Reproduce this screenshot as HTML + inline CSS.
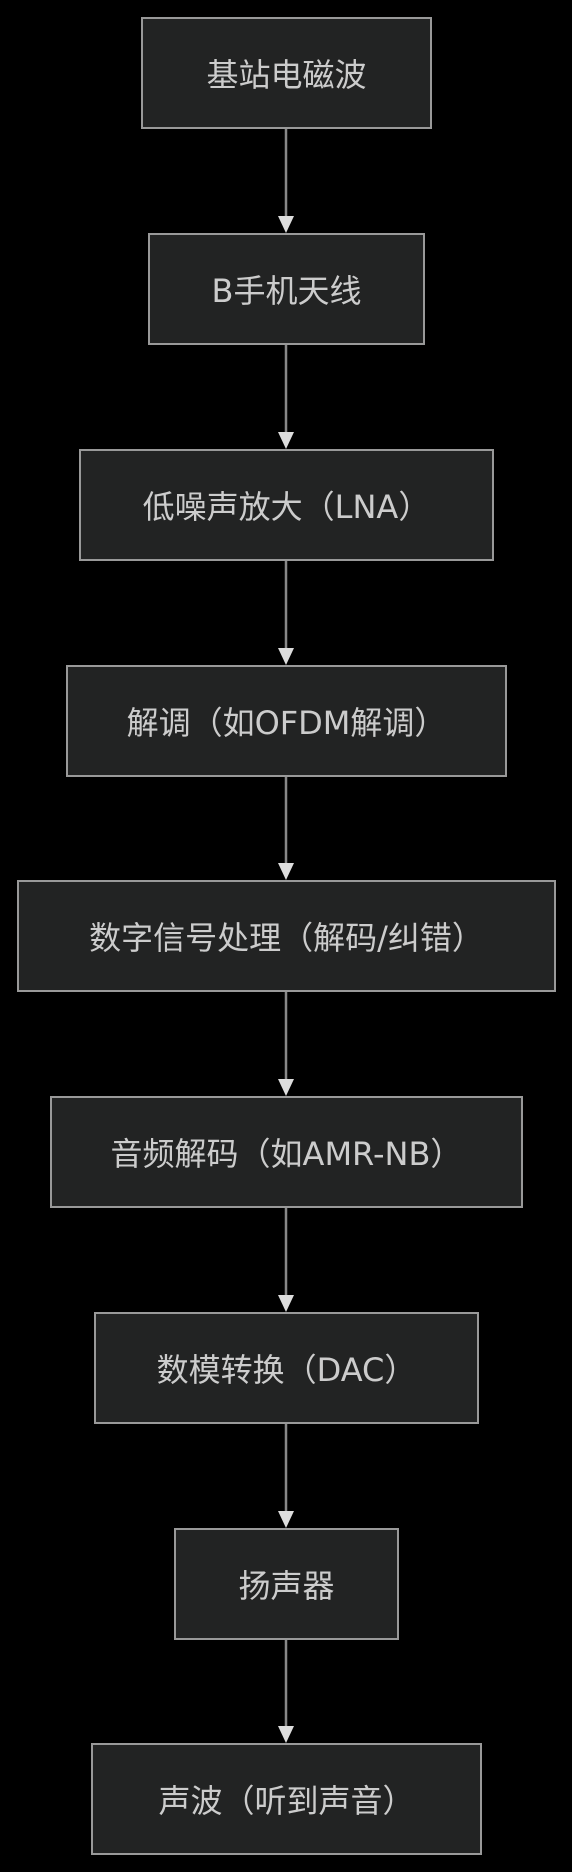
<!DOCTYPE html>
<html><head><meta charset="utf-8"><style>
html,body{margin:0;padding:0;background:#000;}
body{width:572px;height:1872px;position:relative;overflow:hidden;font-family:"DejaVu Sans","Noto Sans CJK SC",sans-serif;}
.n{position:absolute;box-sizing:border-box;background:#222323;border:2px solid #999;color:#ccc;font-size:32px;display:flex;align-items:center;justify-content:center;white-space:nowrap;height:112px;}
</style></head><body>
<svg width="572" height="1872" style="position:absolute;left:0;top:0">
<g stroke="#888" stroke-width="2.5">
<line x1="286" y1="128" x2="286" y2="222"/>
<line x1="286" y1="344" x2="286" y2="438"/>
<line x1="286" y1="560" x2="286" y2="654"/>
<line x1="286" y1="776" x2="286" y2="869"/>
<line x1="286" y1="991" x2="286" y2="1085"/>
<line x1="286" y1="1207" x2="286" y2="1301"/>
<line x1="286" y1="1423" x2="286" y2="1517"/>
<line x1="286" y1="1639" x2="286" y2="1732"/>
</g>
<g fill="#ddd">
<polygon points="278,216 294,216 286,233"/>
<polygon points="278,432 294,432 286,449"/>
<polygon points="278,648 294,648 286,665"/>
<polygon points="278,863 294,863 286,880"/>
<polygon points="278,1079 294,1079 286,1096"/>
<polygon points="278,1295 294,1295 286,1312"/>
<polygon points="278,1511 294,1511 286,1528"/>
<polygon points="278,1726 294,1726 286,1743"/>
</g>
</svg>
<div class="n" style="left:141px;top:17px;width:291px;">基站电磁波</div>
<div class="n" style="left:148px;top:233px;width:277px;">B手机天线</div>
<div class="n" style="left:79px;top:449px;width:415px;">低噪声放大（LNA）</div>
<div class="n" style="left:66px;top:665px;width:441px;">解调（如OFDM解调）</div>
<div class="n" style="left:17px;top:880px;width:539px;">数字信号处理（解码/纠错）</div>
<div class="n" style="left:50px;top:1096px;width:473px;">音频解码（如AMR-NB）</div>
<div class="n" style="left:94px;top:1312px;width:385px;">数模转换（DAC）</div>
<div class="n" style="left:174px;top:1528px;width:225px;">扬声器</div>
<div class="n" style="left:91px;top:1743px;width:391px;">声波（听到声音）</div>
</body></html>
